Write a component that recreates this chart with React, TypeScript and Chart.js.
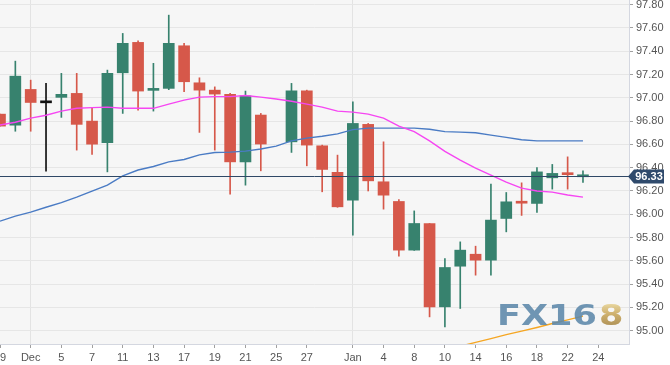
import React, { useEffect, useRef } from 'react';
import { Chart, registerables } from 'chart.js';

Chart.register(...registerables);

// Trading days shown on the category axis (Nov 29 .. Jan 28)
const days = [
  'Nov 29', 'Nov 30', 'Dec 3', 'Dec 4', 'Dec 5', 'Dec 6', 'Dec 7', 'Dec 10', 'Dec 11', 'Dec 12',
  'Dec 13', 'Dec 14', 'Dec 17', 'Dec 18', 'Dec 19', 'Dec 20', 'Dec 21', 'Dec 24', 'Dec 25', 'Dec 26',
  'Dec 27', 'Dec 28', 'Dec 31', 'Jan 2', 'Jan 3', 'Jan 4', 'Jan 7', 'Jan 8', 'Jan 9', 'Jan 10',
  'Jan 11', 'Jan 14', 'Jan 15', 'Jan 16', 'Jan 17', 'Jan 18', 'Jan 21', 'Jan 22', 'Jan 23', 'Jan 24',
  'Jan 25', 'Jan 28',
];

// Text shown under each day ('' = no label)
const tickLabels = [
  '29', '', 'Dec', '', '5', '', '7', '', '11', '',
  '13', '', '17', '', '19', '', '21', '', '25', '',
  '27', '', '', 'Jan', '', '4', '', '8', '', '10',
  '', '14', '', '16', '', '18', '', '22', '', '24',
  '', '',
];

const opens = [
  96.86, 96.765, 97.072, 96.957, 97.004, 97.038, 96.8, 96.614, 97.215, 97.476,
  97.064, 97.081, 97.447, 97.129, 97.066, 97.03, 96.45, 96.852, null, 96.622,
  97.06, 96.588, 96.36, 96.121, 96.772, 96.279, 96.11, 95.692, 95.921, 95.205,
  95.554, 95.657, 95.606, 95.964, 96.1, 96.093, 96.313, 96.345, 96.322,
];
const highs = [
  96.86, 97.315, 97.152, 97.124, 97.21, 97.21, 96.918, 97.238, 97.553, 97.49,
  97.296, 97.71, 97.468, 97.172, 97.094, 97.038, 97.058, 96.866, null, 97.124,
  97.066, 96.594, 96.508, 96.966, 96.78, 96.622, 96.127, 96.029, 95.921, 95.62,
  95.763, 95.726, 96.259, 96.187, 96.27, 96.402, 96.428, 96.493, 96.373,
];
const lows = [
  96.757, 96.713, 96.713, 96.37, 96.832, 96.551, 96.514, 96.364, 96.866, 96.894,
  96.886, 97.07, 97.052, 96.703, 96.551, 96.173, 96.25, 96.373, null, 96.531,
  96.416, 96.193, 96.06, 95.82, 96.2, 96.044, 95.64, 95.69, 95.119, 95.033,
  95.191, 95.477, 95.477, 95.849, 95.99, 96.016, 96.216, 96.216, 96.273,
];
const closes = [
  96.757, 97.186, 96.96, 96.957, 97.03, 96.772, 96.602, 97.21, 97.468, 97.058,
  97.08, 97.468, 97.138, 97.066, 97.032, 96.45, 97.017, 96.603, null, 97.06,
  96.594, 96.385, 96.064, 96.78, 96.287, 96.164, 95.692, 95.921, 95.205, 95.543,
  95.692, 95.606, 95.95, 96.107, 96.095, 96.364, 96.351, 96.34, 96.33,
];

// Moving averages
const maFast = [
  96.766, 96.79, 96.826, 96.85, 96.886, 96.91, 96.916, 96.92, 96.91, 96.91,
  96.91, 96.946, 96.98, 97.006, 97.01, 97.01, 97.02, 97.006, 96.99, 96.97,
  96.946, 96.92, 96.886, 96.877, 96.86, 96.826, 96.757, 96.71, 96.63, 96.54,
  96.465, 96.396, 96.336, 96.276, 96.225, 96.2, 96.19, 96.165, 96.147,
];
const maSlow = [
  95.941, 95.984, 96.018, 96.06, 96.1, 96.147, 96.199, 96.25, 96.33, 96.38,
  96.41, 96.45, 96.47, 96.51, 96.53, 96.534, 96.542, 96.56, 96.585, 96.63,
  96.654, 96.67, 96.69, 96.727, 96.74, 96.74, 96.74, 96.74, 96.73, 96.71,
  96.705, 96.7, 96.68, 96.66, 96.64, 96.63, 96.63, 96.63, 96.63,
];
const maLong = [
  null, null, null, null, null, null, null, null, null, null,
  null, null, null, null, null, null, null, null, null, null,
  null, null, null, null, null, null, null, null, null, 94.836,
  94.867, 94.9, 94.932, 94.966, 94.997, 95.028, 95.062, 95.093, 95.125,
];

const priceTicks = [95.0, 95.2, 95.4, 95.6, 95.8, 96.0, 96.2, 96.4, 96.6, 96.8, 97.0, 97.2, 97.4, 97.6, 97.8];
const Y_MIN = 94.886;
const Y_MAX = 97.84;

const GREEN = '#37826e';
const RED = '#d6584a';
const FONT = '"Liberation Sans", Arial, Helvetica, sans-serif';

const candleColor = (i: number) => {
  const o = opens[i];
  const c = closes[i];
  if (o == null || c == null) return 'transparent';
  if (c > o) return GREEN;
  if (c < o) return RED;
  return '#111111';
};

const lastClose = closes[closes.length - 1] as number;

const bgPlugin = {
  id: 'bgPlugin',
  beforeDraw(chart: any) {
    const { ctx, chartArea: a } = chart;
    ctx.save();
    ctx.fillStyle = '#ffffff';
    ctx.fillRect(0, 0, chart.width, chart.height);
    ctx.fillStyle = '#f6f6f6';
    ctx.fillRect(a.left, a.top, a.right - a.left, a.bottom - a.top);
    ctx.restore();
  },
};

const overlayPlugin = {
  id: 'overlayPlugin',
  afterDatasetsDraw(chart: any) {
    const { ctx, chartArea: a, scales } = chart;
    // watermark
    ctx.save();
    ctx.beginPath();
    ctx.rect(a.left, a.top, a.right - a.left, a.bottom - a.top);
    ctx.clip();
    ctx.globalAlpha = 0.88;
    ctx.font = 'bold 29px "DejaVu Sans", sans-serif';
    ctx.textBaseline = 'alphabetic';
    const w1 = ctx.measureText('FX16').width;
    const sx = 100 / w1;
    ctx.translate(a.right - 132, a.bottom - 19);
    ctx.scale(sx, 1);
    ctx.fillStyle = '#5c88aa';
    ctx.fillText('FX16', 0, 0);
    const g = ctx.createLinearGradient(0, -22, 0, 0);
    g.addColorStop(0, '#e8d597');
    g.addColorStop(0.5, '#c9a75c');
    g.addColorStop(1, '#a88743');
    ctx.fillStyle = g;
    ctx.fillText('8', w1 + 2 / sx, 0);
    ctx.restore();

    // current price line
    const y = Math.round(scales.y.getPixelForValue(lastClose)) + 0.5;
    ctx.save();
    ctx.strokeStyle = '#2f4866';
    ctx.lineWidth = 1;
    ctx.beginPath();
    ctx.moveTo(a.left, y);
    ctx.lineTo(a.right, y);
    ctx.stroke();
    ctx.restore();
  },
  afterDraw(chart: any) {
    const { ctx, chartArea: a, scales } = chart;
    const y = Math.round(scales.y.getPixelForValue(lastClose)) + 0.5;
    const x0 = a.right - 1;
    ctx.save();
    ctx.fillStyle = '#2f4a6c';
    ctx.beginPath();
    ctx.moveTo(x0, y);
    ctx.lineTo(x0 + 6, y - 7);
    ctx.lineTo(x0 + 36, y - 7);
    ctx.lineTo(x0 + 36, y + 7);
    ctx.lineTo(x0 + 6, y + 7);
    ctx.closePath();
    ctx.fill();
    ctx.fillStyle = '#ffffff';
    ctx.font = `bold 11px ${FONT}`;
    ctx.textAlign = 'center';
    ctx.textBaseline = 'middle';
    ctx.fillText(lastClose.toFixed(2), x0 + 21, y + 0.5);
    ctx.restore();
  },
};

export default function App() {
  const ref = useRef<HTMLCanvasElement | null>(null);

  useEffect(() => {
    if (!ref.current) return;
    const isMonth = (i: number) => !!tickLabels[i] && isNaN(Number(tickLabels[i]));
    const chart = new Chart(ref.current, {
      type: 'bar',
      data: {
        labels: days,
        datasets: [
          {
            type: 'line',
            label: 'MA fast',
            data: maFast,
            borderColor: '#f646f2',
            borderWidth: 1.4,
            pointRadius: 0,
            tension: 0,
            order: 1,
          } as any,
          {
            type: 'line',
            label: 'MA slow',
            data: maSlow,
            borderColor: '#4a7bc4',
            borderWidth: 1.4,
            pointRadius: 0,
            tension: 0,
            order: 1,
          } as any,
          {
            type: 'line',
            label: 'MA long',
            data: maLong,
            borderColor: '#f5a623',
            borderWidth: 1.4,
            pointRadius: 0,
            tension: 0,
            order: 1,
          } as any,
          {
            label: 'Body',
            data: opens.map((o, i) => (o == null ? null : [o, closes[i] as number])) as any,
            backgroundColor: opens.map((_, i) => candleColor(i)),
            borderColor: opens.map((_, i) => candleColor(i)),
            borderWidth: 0,
            barThickness: 11,
            minBarLength: 2,
            grouped: false,
            order: 2,
          } as any,
          {
            label: 'Wick',
            data: lows.map((l, i) => (l == null ? null : [l, highs[i] as number])) as any,
            backgroundColor: opens.map((_, i) => candleColor(i)),
            borderWidth: 0,
            barThickness: 1,
            grouped: false,
            order: 3,
          } as any,
        ],
      },
      options: {
        responsive: false,
        animation: false,
        layout: { padding: 0 },
        plugins: { legend: { display: false }, tooltip: { enabled: false } },
        scales: {
          x: {
            type: 'category',
            offset: false,
            grid: {
              offset: false,
              drawOnChartArea: true,
              color: (c: any) => (isMonth(c.index) ? '#e3e3e3' : 'transparent'),
              tickColor: (c: any) => (tickLabels[c.index] ? '#a0a0a0' : 'transparent'),
              tickLength: 4,
            },
            border: { color: '#d4d7e0' },
            ticks: {
              autoSkip: false,
              maxRotation: 0,
              minRotation: 0,
              padding: 3,
              color: '#555555',
              font: { size: 11, family: FONT },
              callback: (_v: any, i: number) => tickLabels[i],
            },
            afterFit: (s: any) => {
              s.height = 21;
              s.paddingLeft = 0;
              s.paddingRight = 0;
            },
          },
          y: {
            position: 'right',
            min: Y_MIN,
            max: Y_MAX,
            afterBuildTicks: (s: any) => {
              s.ticks = priceTicks.map((v) => ({ value: v }));
            },
            grid: { color: '#e6e6e6', tickColor: '#a0a0a0', tickLength: 4 },
            border: { color: '#d4d7e0' },
            ticks: {
              padding: 3,
              color: '#555555',
              font: { size: 11, family: FONT },
              callback: (v: any) => Number(v).toFixed(2),
            },
            afterFit: (s: any) => {
              s.width = 41;
              s.paddingTop = 0;
              s.paddingBottom = 0;
            },
          },
        },
      } as any,
      plugins: [bgPlugin, overlayPlugin],
    });
    return () => chart.destroy();
  }, []);

  return (
    <div style={{ position: 'fixed', left: 0, top: 0, width: 670, height: 365, background: '#fff' }}>
      <canvas ref={ref} width={670} height={365} style={{ width: 670, height: 365, display: 'block' }} />
    </div>
  );
}
